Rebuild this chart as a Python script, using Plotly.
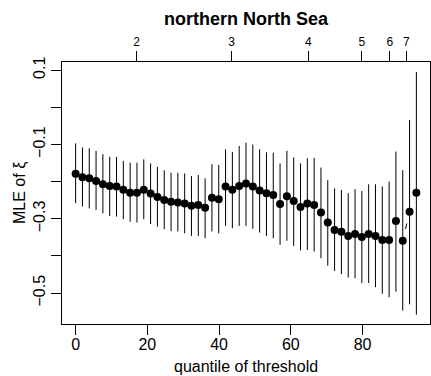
import plotly.graph_objects as go
import math

# ---- data ----
quantile = [0, 1.9, 3.8, 5.7, 7.6, 9.5, 11.4, 13.3, 15.2, 17.1, 19.0, 20.9, 22.8, 24.7,
            26.6, 28.5, 30.4, 32.3, 34.2, 36.1, 38.0, 39.9, 41.8, 43.7, 45.6, 47.5,
            49.4, 51.3, 53.2, 55.1, 57.0, 58.9, 60.8, 62.7, 64.6, 66.5, 68.4, 70.3,
            72.2, 74.1, 76.0, 77.9, 79.8, 81.7, 83.6, 85.5, 87.4, 89.3, 91.2, 93.1, 95.0]

mle = [-0.179, -0.188, -0.191, -0.198, -0.207, -0.212, -0.213, -0.222, -0.230, -0.230,
       -0.222, -0.232, -0.241, -0.249, -0.254, -0.256, -0.259, -0.265, -0.263, -0.270,
       -0.243, -0.247, -0.213, -0.222, -0.212, -0.205, -0.213, -0.224, -0.231, -0.236,
       -0.260, -0.239, -0.252, -0.268, -0.259, -0.263, -0.283, -0.310, -0.330, -0.335,
       -0.346, -0.341, -0.349, -0.341, -0.346, -0.357, -0.357, -0.306, -0.359, -0.281,
       -0.230]

upper = [-0.097, -0.108, -0.110, -0.117, -0.126, -0.133, -0.133, -0.144, -0.149, -0.149,
         -0.140, -0.151, -0.160, -0.169, -0.176, -0.176, -0.178, -0.185, -0.182, -0.191,
         -0.153, -0.155, -0.113, -0.120, -0.104, -0.095, -0.100, -0.113, -0.121, -0.122,
         -0.151, -0.117, -0.135, -0.151, -0.137, -0.136, -0.162, -0.196, -0.218, -0.222,
         -0.231, -0.220, -0.225, -0.207, -0.207, -0.213, -0.200, -0.119, -0.169, -0.034,
         0.095]

lower = [-0.258, -0.267, -0.272, -0.276, -0.285, -0.292, -0.294, -0.301, -0.308, -0.310,
         -0.301, -0.314, -0.321, -0.328, -0.333, -0.334, -0.339, -0.346, -0.346, -0.352,
         -0.334, -0.339, -0.319, -0.325, -0.319, -0.319, -0.327, -0.337, -0.346, -0.352,
         -0.370, -0.359, -0.373, -0.385, -0.384, -0.388, -0.406, -0.426, -0.440, -0.449,
         -0.458, -0.460, -0.473, -0.473, -0.484, -0.502, -0.511, -0.496, -0.547, -0.530,
         -0.558]

# top axis: threshold values at quantile positions
thr_pos = [17.0, 43.5, 64.9, 79.8, 87.6, 92.2]
thr_labels = ["2", "3", "4", "5", "6", "7"]

x_ticks = [0, 20, 40, 60, 80]
y_ticks = [0.1, 0.0, -0.1, -0.2, -0.3, -0.4, -0.5]
y_ticktext = ["0.1", "", "\u22120.1", "", "\u22120.3", "", "\u22120.5"]

XR = [-3.8, 98.8]
YR = [-0.583, 0.122]

W, H = 431, 376
ML, MR, MT, MB = 62, 1, 62, 52
PW, PH = W - ML - MR, H - MT - MB

FONT = "Liberation Sans, Arial, Helvetica, sans-serif"

# type="b" style connecting line with gaps around points
sx = PW / (XR[1] - XR[0])
sy = PH / (YR[1] - YR[0])
gap = 12.0
lx, ly = [], []
for i in range(len(quantile) - 1):
    dxp = (quantile[i + 1] - quantile[i]) * sx
    dyp = (mle[i + 1] - mle[i]) * sy
    d = math.hypot(dxp, dyp)
    if d > 2 * gap:
        f0, f1 = gap / d, 1 - gap / d
        for f in (f0, f1):
            lx.append(quantile[i] + f * (quantile[i + 1] - quantile[i]))
            ly.append(mle[i] + f * (mle[i + 1] - mle[i]))
        lx.append(None)
        ly.append(None)

fig = go.Figure()

fig.add_trace(go.Scatter(
    x=lx, y=ly, mode="lines", line=dict(color="black", width=1),
    hoverinfo="skip", showlegend=False))

fig.add_trace(go.Scatter(
    x=quantile, y=mle, mode="markers",
    marker=dict(color="black", size=8, line=dict(width=0)),
    error_y=dict(type="data", symmetric=False,
                 array=[u - m for u, m in zip(upper, mle)],
                 arrayminus=[m - l for m, l in zip(mle, lower)],
                 width=0, thickness=1, color="black"),
    showlegend=False))

# invisible trace for the top axis
fig.add_trace(go.Scatter(x=[thr_pos[0]], y=[mle[0]], xaxis="x2", mode="markers",
                         marker=dict(opacity=0), hoverinfo="skip", showlegend=False))

fig.update_layout(
    width=W, height=H,
    margin=dict(l=ML, r=MR, t=MT, b=MB),
    paper_bgcolor="white", plot_bgcolor="white",
    font=dict(family=FONT, color="black", size=16),
    xaxis=dict(range=XR, tickvals=x_ticks, ticks="outside", ticklen=10,
               tickcolor="black", showline=True, linecolor="black", linewidth=1,
               mirror=True, showgrid=False, zeroline=False,
               ticklabelstandoff=-4,
               tickfont=dict(size=16)),
    xaxis2=dict(range=XR, overlaying="x", side="top", tickvals=thr_pos,
                ticktext=thr_labels, ticks="outside", ticklen=10, tickcolor="black",
                showline=False, showgrid=False, zeroline=False,
                tickfont=dict(size=12)),
    yaxis=dict(range=YR, tickvals=y_ticks, ticktext=y_ticktext, ticks="outside",
               ticklen=10, tickcolor="black", tickangle=-90, showline=True,
               linecolor="black", linewidth=1, mirror=True, showgrid=False,
               zeroline=False, tickfont=dict(size=16)),
    annotations=[
        dict(text="<b>northern North Sea</b>", xref="paper", yref="paper",
             x=0.5, y=1, yanchor="middle", yshift=43, showarrow=False,
             font=dict(size=18)),
        dict(text="quantile of threshold", xref="paper", yref="paper",
             x=0.5, y=0, yanchor="middle", yshift=-42, showarrow=False,
             font=dict(size=16)),
        dict(text="MLE of \u03be", xref="paper", yref="paper",
             x=0, y=0.5, xanchor="center", xshift=-42, textangle=-90,
             showarrow=False, font=dict(size=16)),
    ],
)

fig.write_html("out.html")
